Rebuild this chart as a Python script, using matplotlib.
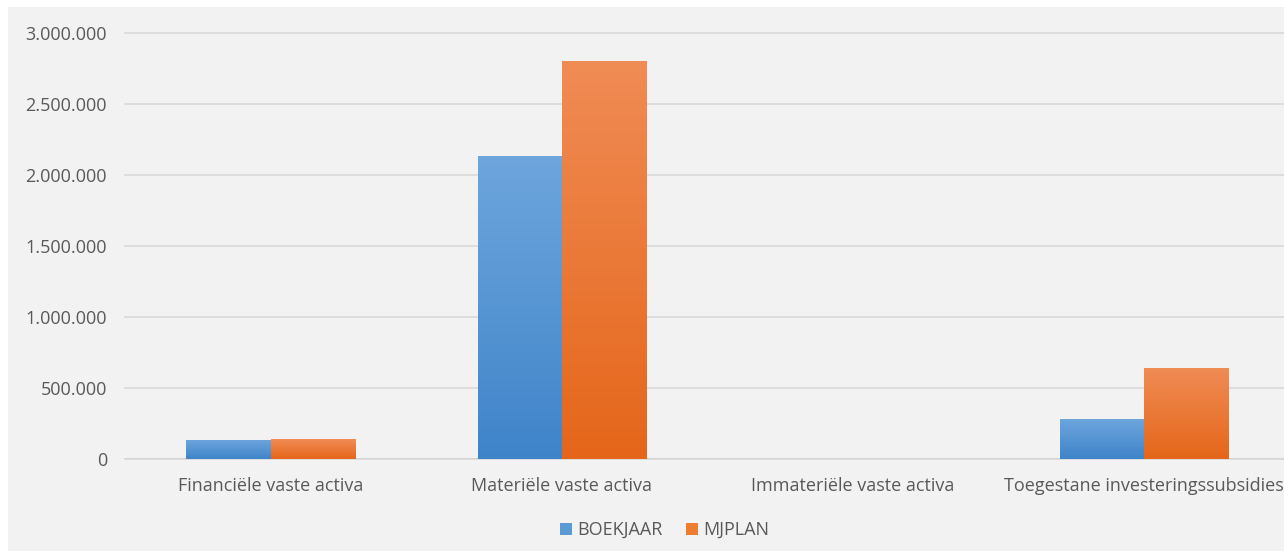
import numpy as np
import matplotlib
matplotlib.use("Agg")
import matplotlib.pyplot as plt
from matplotlib.patches import Rectangle
from matplotlib.colors import LinearSegmentedColormap
from matplotlib.ticker import FuncFormatter, MultipleLocator

categories = ["Financiële vaste activa", "Materiële vaste activa",
              "Immateriële vaste activa", "Toegestane investeringssubsidies"]
boekjaar = [135000, 2135000, 0, 282000]
mjplan = [138000, 2803000, 0, 641000]
series_names = ["BOEKJAAR", "MJPLAN"]

plt.rcParams['font.family'] = ['Open Sans', 'DejaVu Sans']

fig = plt.figure(figsize=(12.84, 5.51), dpi=100)
fig.patch.set_facecolor("white")
# grey chart area with thin white margin top/left
fig.patches.append(Rectangle((8/1284, 0), 1, 1 - 7/551, transform=fig.transFigure,
                             facecolor="#f2f2f2", edgecolor="none", zorder=-10))

ax = fig.add_axes([125/1284, 92/551, 1165/1284, 426/551])
ax.set_facecolor("none")
for s in ax.spines.values():
    s.set_visible(False)

x = np.arange(len(categories))
w = 0.289
blue_cm = LinearSegmentedColormap.from_list("b", ["#3f84c9", "#6ea6dd"])
orange_cm = LinearSegmentedColormap.from_list("o", ["#e5661a", "#f08c55"])
grad = np.linspace(0, 1, 256).reshape(-1, 1)

for vals, off, cm_, base in [(boekjaar, -w/2, blue_cm, "#5b9bd5"),
                            (mjplan, w/2, orange_cm, "#ed7d31")]:
    bars = ax.bar(x + off, vals, width=w, color=base, zorder=2)
    for b in bars:
        if b.get_height() <= 0:
            continue
        im = ax.imshow(grad, cmap=cm_, origin="lower", aspect="auto",
                       extent=[b.get_x(), b.get_x() + b.get_width(), 0, b.get_height()],
                       zorder=3)
        im.set_clip_path(b)

ax.set_xlim(-0.5, len(categories) - 0.5)
ax.set_ylim(0, 3000000)
ax.yaxis.set_major_locator(MultipleLocator(500000))
ax.yaxis.set_major_formatter(FuncFormatter(lambda v, p: f"{int(v):,}".replace(",", ".")))
ax.grid(axis="y", color="#d9d9d9", linewidth=1.2, zorder=0)
ax.set_axisbelow(True)
ax.axhline(0, color="#d0d0d0", linewidth=1.2, zorder=1)
for gl in ax.get_ygridlines():
    gl.set_clip_on(False)

ax.set_xticks(x)
ax.set_xticklabels(categories)
ax.tick_params(axis="both", length=0, labelsize=13, colors="#595959")
ax.tick_params(axis="y", pad=13)
ax.tick_params(axis="x", pad=13)

handles = [Rectangle((0, 0), 1, 1, facecolor="#5b9bd5"),
           Rectangle((0, 0), 1, 1, facecolor="#ed7d31")]
fig.legend(handles, series_names, loc="center", bbox_to_anchor=(665/1284, 1 - 530/551),
           ncol=2, frameon=False, fontsize=13, labelcolor="#595959",
           handlelength=0.65, handleheight=0.65, handletextpad=0.3, columnspacing=1.3)

fig.savefig("out.png", dpi=100, facecolor=fig.get_facecolor())
